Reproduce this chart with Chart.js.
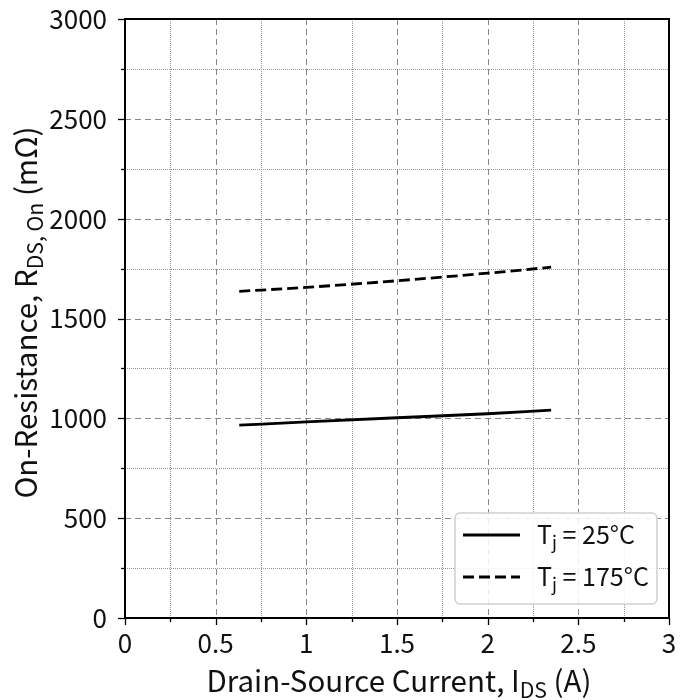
<!DOCTYPE html>
<html>
<head>
<meta charset="utf-8">
<script src="https://cdn.jsdelivr.net/npm/chart.js@4.4.0/dist/chart.umd.min.js"></script>
<style>
  html, body { margin: 0; padding: 0; background: #fff; }
  #wrap { width: 694px; height: 700px; }
</style>
</head>
<body>
<div id="wrap"><canvas id="grafico" width="694" height="700"></canvas></div>
<script>
// datos
const corriente = [0.63, 1.0, 1.5, 2.0, 2.35];
const rds25 = [966, 982, 1003, 1023, 1041];
const rds175 = [1636, 1656, 1689, 1727, 1757];
const ticksX = [0, 0.5, 1, 1.5, 2, 2.5, 3];
const ticksY = [0, 500, 1000, 1500, 2000, 2500, 3000];
const leyenda = ["25°C", "175°C"];

const FUENTE = "'Noto Sans CJK JP', 'Noto Sans', sans-serif";

// texto con subindice: partes [{t, sub}]
function textoSub(ctx, partes, x, y, size) {
  let cx = x;
  partes.forEach(p => {
    ctx.font = (p.sub ? size * 0.72 : size) + "px " + FUENTE;
    ctx.fillText(p.t, cx, y + (p.sub ? size * 0.2 : 0));
    cx += ctx.measureText(p.t).width;
  });
  return cx - x;
}
function anchoSub(ctx, partes, size) {
  let w = 0;
  partes.forEach(p => {
    ctx.font = (p.sub ? size * 0.72 : size) + "px " + FUENTE;
    w += ctx.measureText(p.t).width;
  });
  return w;
}

const rejilla = {
  id: "rejilla",
  beforeDatasetsDraw(chart) {
    const { ctx, chartArea: a, scales: { x, y } } = chart;
    ctx.save();
    ctx.lineWidth = 1;
    // menores punteadas
    ctx.strokeStyle = "#999";
    ctx.setLineDash([1, 1]);
    for (let v = 0.25; v < 3; v += 0.5) {
      const px = Math.round(x.getPixelForValue(v)) + 0.5;
      ctx.beginPath(); ctx.moveTo(px, a.top); ctx.lineTo(px, a.bottom); ctx.stroke();
    }
    for (let v = 250; v < 3000; v += 500) {
      const py = Math.round(y.getPixelForValue(v)) + 0.5;
      ctx.beginPath(); ctx.moveTo(a.left, py); ctx.lineTo(a.right, py); ctx.stroke();
    }
    // mayores discontinuas
    ctx.strokeStyle = "#888";
    ctx.setLineDash([6, 4]);
    ticksX.forEach(v => {
      const px = Math.round(x.getPixelForValue(v)) + 0.5;
      ctx.beginPath(); ctx.moveTo(px, a.top); ctx.lineTo(px, a.bottom); ctx.stroke();
    });
    ticksY.forEach(v => {
      const py = Math.round(y.getPixelForValue(v)) + 0.5;
      ctx.beginPath(); ctx.moveTo(a.left, py); ctx.lineTo(a.right, py); ctx.stroke();
    });
    ctx.restore();
  },
  afterDatasetsDraw(chart) {
    const { ctx, chartArea: a, scales: { x, y } } = chart;
    ctx.save();
    // marco
    ctx.strokeStyle = "#000";
    ctx.lineWidth = 2;
    ctx.strokeRect(a.left, a.top, a.right - a.left, a.bottom - a.top);
    // marcas de ejes
    ctx.lineWidth = 1.3;
    for (let v = 0; v <= 3.001; v += 0.25) {
      const px = Math.round(x.getPixelForValue(v)) + 0.5;
      const largo = (Math.round(v * 4) % 2 === 0) ? 7 : 4;
      ctx.beginPath(); ctx.moveTo(px, a.bottom); ctx.lineTo(px, a.bottom + largo); ctx.stroke();
    }
    for (let v = 0; v <= 3000; v += 250) {
      const py = Math.round(y.getPixelForValue(v)) + 0.5;
      const largo = (v % 500 === 0) ? 7 : 4;
      ctx.beginPath(); ctx.moveTo(a.left, py); ctx.lineTo(a.left - largo, py); ctx.stroke();
    }

    // titulos de ejes
    ctx.fillStyle = "#111";
    ctx.textBaseline = "alphabetic";
    const tamT = 29.5;
    const tx = [{ t: "Drain-Source Current, I" }, { t: "DS", sub: true }, { t: " (A)" }];
    const wx = anchoSub(ctx, tx, tamT);
    textoSub(ctx, tx, (a.left + a.right) / 2 - wx / 2 + 2, 692, tamT);

    const ty = [{ t: "On-Resistance, R" }, { t: "DS, On", sub: true }, { t: " (mΩ)" }];
    const wy = anchoSub(ctx, ty, tamT);
    ctx.save();
    ctx.translate(37, (a.top + a.bottom) / 2 - 6);
    ctx.rotate(-Math.PI / 2);
    textoSub(ctx, ty, -wy / 2, 0, tamT);
    ctx.restore();

    // leyenda
    const lx = 455, ly = 513, lw = 202, lh = 91;
    ctx.fillStyle = "rgba(255,255,255,0.85)";
    ctx.strokeStyle = "#d0d0d0";
    ctx.lineWidth = 1.5;
    ctx.beginPath();
    ctx.roundRect(lx, ly, lw, lh, 5);
    ctx.fill(); ctx.stroke();
    const estilos = [[], [11, 5]];
    const filas = [535, 577];
    leyenda.forEach((t, i) => {
      const yy = filas[i];
      ctx.strokeStyle = "#000";
      ctx.lineWidth = 2.8;
      ctx.setLineDash(estilos[i]);
      ctx.beginPath(); ctx.moveTo(463, yy); ctx.lineTo(520, yy); ctx.stroke();
      ctx.setLineDash([]);
      ctx.fillStyle = "#111";
      textoSub(ctx, [{ t: "T" }, { t: "j", sub: true }, { t: " = " + t }], 537, yy + 9, 25);
    });
    ctx.restore();
  }
};

new Chart(document.getElementById("grafico").getContext("2d"), {
  type: "line",
  data: {
    datasets: [
      {
        label: "Tj = 25°C",
        data: corriente.map((c, i) => ({ x: c, y: rds25[i] })),
        borderColor: "#000",
        borderWidth: 2.8,
        pointRadius: 0,
        cubicInterpolationMode: "monotone",
        fill: false
      },
      {
        label: "Tj = 175°C",
        data: corriente.map((c, i) => ({ x: c, y: rds175[i] })),
        borderColor: "#000",
        borderWidth: 2.8,
        borderDash: [11, 5],
        pointRadius: 0,
        cubicInterpolationMode: "monotone",
        fill: false
      }
    ]
  },
  options: {
    responsive: false,
    animation: false,
    layout: { padding: { top: 19, right: 25, left: 0, bottom: 0 } },
    plugins: {
      legend: { display: false },
      tooltip: { enabled: false }
    },
    scales: {
      x: {
        type: "linear",
        min: 0, max: 3,
        afterBuildTicks: s => { s.ticks = ticksX.map(v => ({ value: v })); },
        afterFit: s => { s.height = 82; s.paddingLeft = 0; s.paddingRight = 0; },
        grid: { display: false },
        border: { display: false },
        ticks: {
          color: "#111",
          font: { size: 26, family: FUENTE },
          padding: 2,
          maxRotation: 0,
          callback: v => String(v)
        }
      },
      y: {
        type: "linear",
        min: 0, max: 3000,
        afterBuildTicks: s => { s.ticks = ticksY.map(v => ({ value: v })); },
        afterFit: s => { s.width = 125; s.paddingTop = 0; s.paddingBottom = 0; },
        grid: { display: false },
        border: { display: false },
        ticks: {
          color: "#111",
          font: { size: 26, family: FUENTE },
          padding: 10,
          callback: v => String(v)
        }
      }
    }
  },
  plugins: [rejilla]
});
</script>
</body>
</html>
